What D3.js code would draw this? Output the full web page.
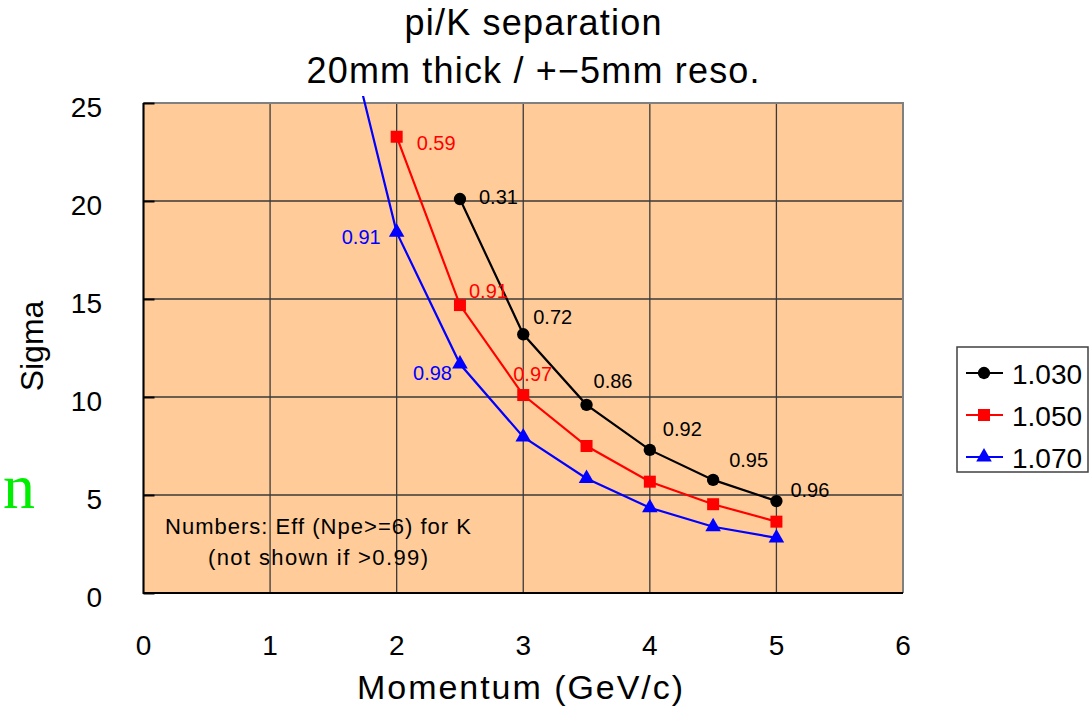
<!DOCTYPE html>
<html>
<head>
<meta charset="utf-8">
<script src="https://cdn.jsdelivr.net/npm/d3@7"></script>
<style>
body { margin: 0; background: #ffffff; }
svg text { font-family: "Liberation Sans", Arial, sans-serif; }
</style>
</head>
<body>
<svg id="chart" width="1092" height="707"></svg>
<script>
// momentum points (GeV/c)
var mom_103 = [2.5, 3, 3.5, 4, 4.5, 5];
var mom_105 = [2, 2.5, 3, 3.5, 4, 4.5, 5];
var mom_107 = [1.5, 2, 2.5, 3, 3.5, 4, 4.5, 5];
// separation in sigma
var sig_103 = [20.1, 13.2, 9.6, 7.3, 5.77, 4.69];
var sig_105 = [23.28, 14.69, 10.1, 7.5, 5.68, 4.53, 3.64];
var sig_107 = [31.5, 18.4, 11.68, 7.96, 5.84, 4.35, 3.38, 2.81];
// K efficiency labels ("" = not shown)
var eff_103 = ["0.31", "0.72", "0.86", "0.92", "0.95", "0.96"];
var eff_105 = ["0.59", "0.91", "0.97", "", "", "", ""];
var eff_107 = ["", "0.91", "0.98", "", "", "", "", ""];
var series_names = ["1.030", "1.050", "1.070"];
var xticks = [0, 1, 2, 3, 4, 5, 6];
var yticks = [0, 5, 10, 15, 20, 25];

// label nudges (layout only)
var nudge_103 = [[19,-2],[10,-17],[7,-24],[13,-21],[16,-20],[14,-11]];
var nudge_105 = [[20,6],[9,-14],[-10,-21],[0,0],[0,0],[0,0],[0,0]];
var nudge_107 = [[0,0],[-16,5],[-8,9],[0,0],[0,0],[0,0],[0,0],[0,0]];

var svg = d3.select("#chart");
var x0 = 143.5, x1 = 903, yTop = 103, yBot = 593;
var xs = d3.scaleLinear().domain([0, 6]).range([x0, x1]);
var ys = d3.scaleLinear().domain([0, 25]).range([yBot, yTop]);

// plot area
svg.append("rect").attr("x", x0).attr("y", yTop)
    .attr("width", x1-x0).attr("height", yBot-yTop)
    .attr("fill", "#ffcc99");

// grid
svg.append("g").selectAll("line.gy").data(yticks).enter().append("line")
    .attr("x1", x0).attr("x2", x1)
    .attr("y1", function(d){ return ys(d); }).attr("y2", function(d){ return ys(d); })
    .attr("stroke", "#3a3a3a").attr("stroke-width", 1.3);
svg.append("g").selectAll("line.gx").data(xticks).enter().append("line")
    .attr("y1", yTop).attr("y2", yBot)
    .attr("x1", function(d){ return xs(d); }).attr("x2", function(d){ return xs(d); })
    .attr("stroke", "#3a3a3a").attr("stroke-width", 1.3);

// frame: top/right gray, left/bottom black
svg.append("path").attr("d", "M"+x0+","+yTop+"H"+x1+"V"+yBot)
    .attr("fill", "none").attr("stroke", "#808080").attr("stroke-width", 2);
svg.append("path").attr("d", "M"+x0+","+yTop+"V"+yBot+"H"+x1)
    .attr("fill", "none").attr("stroke", "#000").attr("stroke-width", 2);

// y axis (ticks pointing inward)
var yaxis = svg.append("g").attr("transform", "translate(" + x0 + ",0)")
    .call(d3.axisRight(ys).tickValues(yticks).tickSize(11).tickFormat(""));
yaxis.select(".domain").remove();
yaxis.selectAll("line").attr("stroke", "#000").attr("stroke-width", 2);

svg.append("g").selectAll("text").data(yticks).enter().append("text")
    .attr("x", 102).attr("y", function(d){ return ys(d) + 4; })
    .attr("text-anchor", "end").attr("dominant-baseline", "central")
    .style("font-size", "28px").text(function(d){ return d; });

svg.append("g").selectAll("text").data(xticks).enter().append("text")
    .attr("x", function(d){ return xs(d); }).attr("y", 645)
    .attr("text-anchor", "middle").attr("dominant-baseline", "central")
    .style("font-size", "28px").text(function(d){ return d; });

// titles
svg.append("text").attr("x", 533).attr("y", 35).attr("text-anchor", "middle")
    .attr("textLength", 257).attr("lengthAdjust", "spacing")
    .style("font-size", "36px").text("pi/K separation");
svg.append("text").attr("x", 533).attr("y", 83).attr("text-anchor", "middle")
    .attr("textLength", 453).attr("lengthAdjust", "spacing")
    .style("font-size", "36px").text("20mm thick / +\u22125mm reso.");
svg.append("text").attr("x", 520).attr("y", 699).attr("text-anchor", "middle")
    .attr("textLength", 326).attr("lengthAdjust", "spacing")
    .style("font-size", "34px").text("Momentum (GeV/c)");
svg.append("text").attr("transform", "translate(43,346) rotate(-90)")
    .attr("text-anchor", "middle")
    .style("font-size", "32px").text("Sigma");

// stray green letter at left
svg.append("text").attr("x", 3).attr("y", 508)
    .style("font-family", "'Liberation Serif', 'DejaVu Serif', serif")
    .style("font-size", "64px").attr("fill", "#00ee00").text("n");

// note
svg.append("text").attr("x", 318).attr("y", 526).attr("text-anchor", "middle")
    .attr("dominant-baseline", "central").style("font-size", "22px")
    .attr("textLength", 306).attr("lengthAdjust", "spacing")
    .text("Numbers: Eff (Npe>=6) for K");
svg.append("text").attr("x", 318).attr("y", 557).attr("text-anchor", "middle")
    .attr("dominant-baseline", "central").style("font-size", "22px")
    .attr("textLength", 220).attr("lengthAdjust", "spacing")
    .text("(not shown if >0.99)");

// clip: the 1.070 curve runs off the top of the scale
svg.append("clipPath").attr("id", "plotclip").append("rect")
    .attr("x", x0).attr("y", 96).attr("width", x1-x0).attr("height", yBot-96);

var series = [
    { name: series_names[0], x: mom_103, y: sig_103, lab: eff_103, nud: nudge_103, color: "#000000", mark: d3.symbolCircle, anchor: "start" },
    { name: series_names[1], x: mom_105, y: sig_105, lab: eff_105, nud: nudge_105, color: "#ff0000", mark: d3.symbolSquare, anchor: "start" },
    { name: series_names[2], x: mom_107, y: sig_107, lab: eff_107, nud: nudge_107, color: "#0000ff", mark: d3.symbolTriangle, anchor: "end" }
];

function markerpath(s)
{
    var sz = s.mark == d3.symbolCircle ? 120 : (s.mark == d3.symbolSquare ? 144 : 105);
    return d3.symbol().type(s.mark).size(sz)();
}

var line = d3.line()
    .x(function(d){ return xs(d[0]); })
    .y(function(d){ return ys(d[1]); });

series.forEach(function(s) {
    var pts = s.x.map(function(v, i){ return [v, s.y[i], s.lab[i], s.nud[i]]; });
    var g = svg.append("g").attr("clip-path", "url(#plotclip)");
    g.append("path").datum(pts).attr("d", line)
        .attr("fill", "none").attr("stroke", s.color).attr("stroke-width", 2.2);
    g.selectAll("path.mk").data(pts.filter(function(d){ return ys(d[1]) >= yTop; }))
        .enter().append("path").attr("class", "mk")
        .attr("d", markerpath(s))
        .attr("transform", function(d){ return "translate(" + xs(d[0]) + "," + ys(d[1]) + ")"; })
        .attr("fill", s.color);
    svg.append("g").selectAll("text").data(pts.filter(function(d){ return d[2] != ""; }))
        .enter().append("text")
        .attr("x", function(d){ return xs(d[0]) + d[3][0]; })
        .attr("y", function(d){ return ys(d[1]) + d[3][1]; })
        .attr("text-anchor", s.anchor).attr("dominant-baseline", "central")
        .attr("fill", s.color).style("font-size", "20px")
        .text(function(d){ return d[2]; });
});

// legend
var lx = 957, ly = 347;
svg.append("rect").attr("x", lx).attr("y", ly).attr("width", 131).attr("height", 125)
    .attr("fill", "#fff").attr("stroke", "#404040").attr("stroke-width", 1.5);
var leg = svg.append("g").selectAll("g").data(series).enter().append("g")
    .attr("transform", function(d, i){ return "translate(" + lx + "," + (373 + i*42) + ")"; });
leg.append("line").attr("x1", 9).attr("x2", 46).attr("y1", 0).attr("y2", 0)
    .attr("stroke", function(d){ return d.color; }).attr("stroke-width", 2.2);
leg.append("path").attr("d", function(d){ return markerpath(d); })
    .attr("transform", "translate(27,0)")
    .attr("fill", function(d){ return d.color; });
leg.append("text").attr("x", 55).attr("y", 1).attr("dominant-baseline", "central")
    .style("font-size", "28px").text(function(d){ return d.name; });
</script>
</body>
</html>
